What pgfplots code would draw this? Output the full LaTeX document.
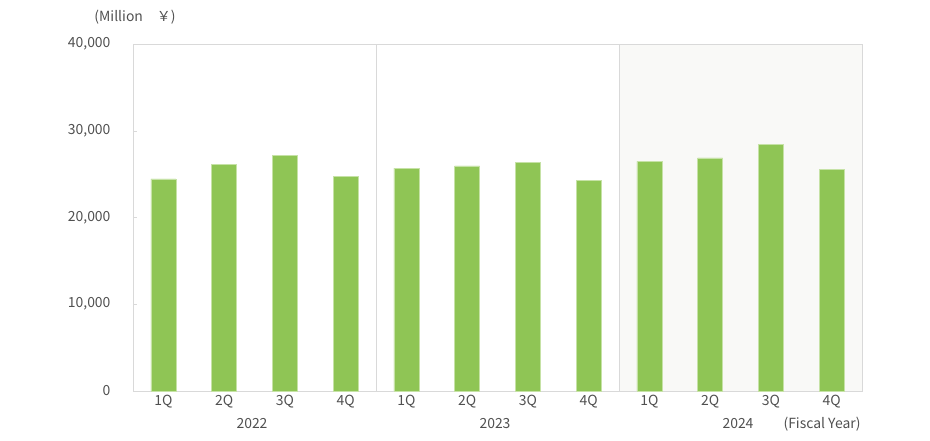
\documentclass[border=0pt]{standalone}
\usepackage{pgfplots}
\pgfplotsset{compat=1.18}
\usepackage{fontspec}
\setmainfont{Noto Sans CJK JP}
\definecolor{txt}{HTML}{505050}
\definecolor{barg}{HTML}{8FC555}
\definecolor{bedge}{HTML}{C6E2A6}
\definecolor{axg}{HTML}{D9D9D9}
\definecolor{bgshade}{HTML}{F9F9F7}
\begin{document}
\begin{tikzpicture}
\begin{axis}[
  set layers,
  at={(133bp,50bp)}, anchor=south west,
  scale only axis, width=729bp, height=347bp,
  xmin=-0.5, xmax=11.5, ymin=0, ymax=40000,
  xtick={0,...,11},
  xticklabels={1Q,2Q,3Q,4Q,1Q,2Q,3Q,4Q,1Q,2Q,3Q,4Q},
  ytick={0,10000,20000,30000,40000},
  ytick pos=left,
  scaled y ticks=false,
  /pgf/number format/.cd, 1000 sep={,}, assume math mode=true, /pgfplots/.cd,
  axis line style={axg},
  x tick style={draw=none},
  y tick style={axg},
  major tick length=4bp,
  tick align=inside,
  ticklabel style={font=\fontsize{14}{16}\selectfont, text=txt},
  xticklabel style={yshift=-0.5bp},
  yticklabel style={xshift=-19bp},
  clip=false,
]
\begin{pgfonlayer}{axis background}
\fill[bgshade] (axis cs:7.5,0) rectangle (axis cs:11.5,40000);
\draw[axg] (axis cs:3.5,0) -- (axis cs:3.5,40000);
\draw[axg] (axis cs:7.5,0) -- (axis cs:7.5,40000);
\end{pgfonlayer}
\addplot[ybar, bar width=0.41, fill=barg, draw=bedge, line width=0.6bp] coordinates {
(0,24440) (1,26120) (2,27170) (3,24780)
(4,25700) (5,25940) (6,26360) (7,24320)
(8,26480) (9,26860) (10,28470) (11,25590)};
\end{axis}
\begin{scope}[every node/.style={text=txt, font=\fontsize{14}{16}\selectfont}]
\node at (252bp,17bp) {2022};
\node at (495bp,17bp) {2023};
\node at (738bp,17bp) {2024};
\node at (822bp,17bp) {(Fiscal Year)};
\node at (135bp,424bp) {(Million\hspace{1em}￥)};
\end{scope}
\pgfresetboundingbox
\useasboundingbox (0,0) rectangle (930bp,441bp);
\end{tikzpicture}
\end{document}
